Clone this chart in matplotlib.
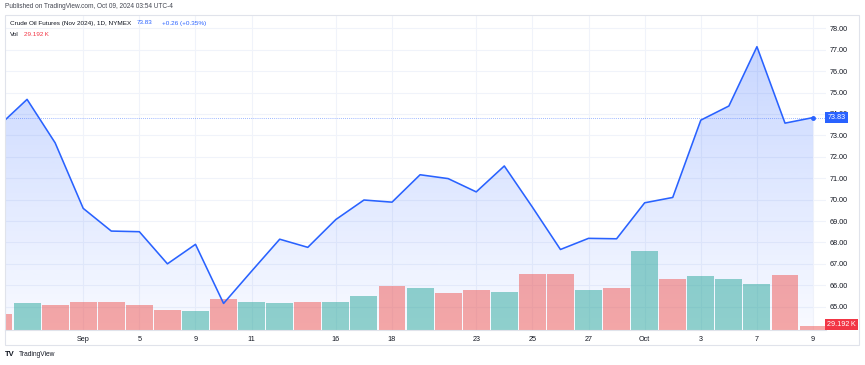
import numpy as np
import matplotlib
matplotlib.use('Agg')
import matplotlib.pyplot as plt
import matplotlib.transforms as mtransforms
from matplotlib.colors import to_rgb
from matplotlib.patches import Polygon, Rectangle

plt.rcParams['font.family'] = ['Liberation Sans', 'DejaVu Sans']

# daily closes, Nov 2024 crude oil futures
dates = ['Aug 28', 'Aug 29', 'Aug 30', 'Sep 3', 'Sep 4', 'Sep 5', 'Sep 6', 'Sep 9',
         'Sep 10', 'Sep 11', 'Sep 12', 'Sep 13', 'Sep 16', 'Sep 17', 'Sep 18',
         'Sep 19', 'Sep 20', 'Sep 23', 'Sep 24', 'Sep 25', 'Sep 26', 'Sep 27',
         'Sep 30', 'Oct 1', 'Oct 2', 'Oct 3', 'Oct 4', 'Oct 7', 'Oct 8', 'Oct 9']
close = [73.45, 74.68, 72.65, 69.59, 68.53, 68.50, 67.00, 67.91, 65.15, 66.66,
         68.15, 67.77, 69.07, 69.98, 69.88, 71.16, 70.98, 70.36, 71.57, 69.65,
         67.67, 68.19, 68.17, 69.85, 70.10, 73.71, 74.37, 77.14, 73.57, 73.83]
volume_k = [117, 194, 183, 201, 204, 183, 146, 141, 226, 207, 194, 201, 207, 250,
            318, 307, 267, 292, 274, 409, 411, 292, 304, 574, 372, 396, 372, 336,
            402, 29.192]
bar_up = [False, True, False, False, False, False, False, True, False, True,
          True, False, True, True, False, True, False, False, True, False,
          False, True, False, True, False, True, True, True, False, False]

tick_days = ['Sep 3', 'Sep 5', 'Sep 9', 'Sep 11', 'Sep 16', 'Sep 18', 'Sep 23',
             'Sep 25', 'Sep 27', 'Oct 1', 'Oct 3', 'Oct 7', 'Oct 9']
tick_labels = ['Sep', '5', '9', '11', '16', '18', '23', '25', '27', 'Oct', '3', '7', '9']
price_ticks = [65, 66, 67, 68, 69, 70, 71, 72, 73, 74, 75, 76, 77, 78]
last_price = 73.83
last_vol = '29.192\u2009K'

W, H = 865, 365
BLUE = '#2962ff'
TEXT = '#131722'
VOL_TOP = 2300  # volume (K) at top of pane


def fpx(x, y):
    return x / W, 1 - y / H


fig = plt.figure(figsize=(W / 100, H / 100), dpi=100)
fig.patch.set_facecolor('white')

left, right, top, bottom = 5, 826, 15, 330
ax = fig.add_axes([left / W, 1 - bottom / H, (right - left) / W, (bottom - top) / H])
ylo, yhi = 63.91, 78.62

x = np.arange(len(dates))

# gradient area under line
grad = np.zeros((256, 1, 4))
grad[..., :3] = to_rgb(BLUE)
grad[..., 3] = np.linspace(0.26, 0.03, 256)[:, None]
im = ax.imshow(grad, extent=[x[0], x[-1], ylo, max(close)], aspect='auto',
               origin='upper', zorder=1)
poly = Polygon(np.column_stack([np.r_[x, x[-1], x[0]], np.r_[close, ylo, ylo]]),
               closed=True, facecolor='none', edgecolor='none')
ax.add_patch(poly)
im.set_clip_path(poly)

# volume bars in the bottom of the pane
colors = ['#26a69a' if u else '#ef5350' for u in bar_up]
ax.bar(x, np.array(volume_k) / VOL_TOP, width=0.96, bottom=0, color=colors,
       alpha=0.5, transform=ax.get_xaxis_transform(), zorder=2)

ax.plot(x, close, color=BLUE, lw=1.15, zorder=4)
ax.plot(x[-1], close[-1], 'o', color=BLUE, ms=2.5, zorder=5)
ax.axhline(last_price, color=BLUE, lw=0.6, ls=(0, (1, 1.5)), alpha=0.6, zorder=3)

ax.set_xlim(0.214, 29.46)
ax.set_ylim(ylo, yhi)
ax.set_xticks([dates.index(d) for d in tick_days], tick_labels)
ax.set_yticks(price_ticks, [f'{v:.2f}' for v in price_ticks])
ax.yaxis.tick_right()
ax.tick_params(axis='x', length=0, pad=4, labelsize=5.2, labelcolor=TEXT)
ax.tick_params(axis='y', length=0, pad=2.5, labelsize=5.2, labelcolor=TEXT)
ax.grid(color='#f0f3fa', lw=0.8, zorder=0)
ax.set_axisbelow(True)
for s in ['top', 'right', 'left']:
    ax.spines[s].set_visible(False)
ax.spines['bottom'].set_color('#e0e3eb')
ax.spines['bottom'].set_linewidth(0.8)

# last value labels on the price scale
trans = mtransforms.blended_transform_factory(ax.transAxes, ax.transData)
ax.text(1.0015, last_price, '73.83', transform=trans, ha='left', va='center',
        fontsize=5.2, color='white', zorder=10, clip_on=False,
        bbox=dict(boxstyle='square,pad=0.3', fc=BLUE, ec='none'))
ax.text(1.0015, 0.018, last_vol, transform=ax.transAxes, ha='left',
        va='center', fontsize=5.2, color='white', zorder=10, clip_on=False,
        bbox=dict(boxstyle='square,pad=0.3', fc='#f23645', ec='none'))

# panel border
fig.patches.append(Rectangle(fpx(5, 345), 854 / W, 330 / H, transform=fig.transFigure,
                             fill=False, ec='#e0e3eb', lw=0.8))

# header
fig.text(*fpx(5, 6), 'Published on TradingView.com, Oct 09, 2024 03:54 UTC-4',
         fontsize=4.7, color='#434651', va='center')
fig.text(*fpx(10, 23), 'Crude Oil Futures (Nov 2024), 1D, NYMEX', fontsize=4.6,
         color=TEXT, va='center')
fig.text(*fpx(137, 23), '73.83', fontsize=4.6, color=BLUE, va='center')
fig.text(*fpx(162, 23), '+0.26 (+0.35%)', fontsize=4.6, color=BLUE, va='center')
fig.text(*fpx(10, 34), 'Vol', fontsize=4.6, color=TEXT, va='center')
fig.text(*fpx(24, 34), last_vol, fontsize=4.6, color='#f23645', va='center')

# footer
fig.text(*fpx(5, 354), 'TV', fontsize=5.5, fontweight='bold', color=TEXT, va='center')
fig.text(*fpx(19, 354), 'TradingView', fontsize=4.8, color=TEXT, va='center')

fig.savefig('out.png', dpi=100, facecolor='white')
